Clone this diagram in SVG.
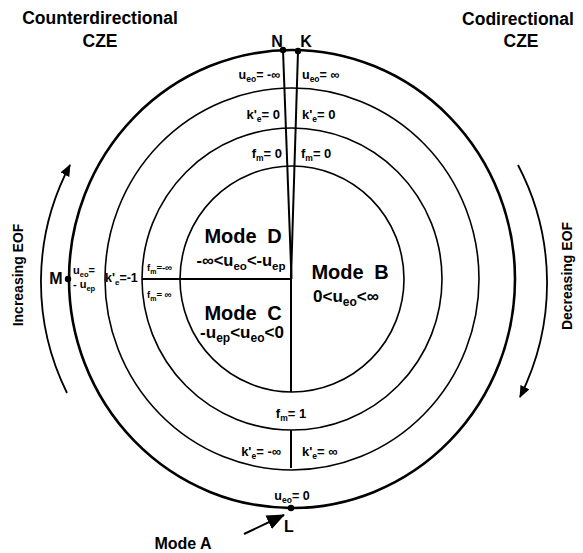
<svg xmlns="http://www.w3.org/2000/svg" width="583" height="553" viewBox="0 0 583 553">
<defs>
<style>
.t{font-family:"Liberation Sans",Arial,Helvetica,sans-serif;font-weight:bold;fill:#000}
.ring{fill:none;stroke:#000;stroke-width:1.6}
.outer{fill:none;stroke:#000;stroke-width:2.6}
.ln{stroke:#000;stroke-width:2;fill:none}
.arc{fill:none;stroke:#000;stroke-width:1.8}
</style>
<marker id="ah" viewBox="0 0 12 10" refX="11" refY="5" markerWidth="12" markerHeight="10" markerUnits="userSpaceOnUse" orient="auto">
<path d="M0,0 L12,5 L0,10 Z" fill="#000"/>
</marker>
<marker id="ahBig" viewBox="0 0 18 15" refX="17" refY="7.5" markerWidth="18" markerHeight="15" markerUnits="userSpaceOnUse" orient="auto">
<path d="M0,0 L18,7.5 L0,15 Z" fill="#000"/>
</marker>
</defs>
<rect width="583" height="553" fill="#fff"/>

<g id="titles">
<text class="t" x="100" y="24" font-size="17.5" text-anchor="middle">Counterdirectional</text>
<text class="t" x="100" y="47" font-size="17.5" text-anchor="middle">CZE</text>
<text class="t" x="518" y="25" font-size="17.5" text-anchor="middle">Codirectional</text>
<text class="t" x="521" y="47" font-size="17.5" text-anchor="middle">CZE</text>
</g>

<g id="rings">
<ellipse class="outer" cx="292" cy="279" rx="223" ry="229"/>
<ellipse class="ring" cx="292" cy="279" rx="187" ry="191"/>
<ellipse class="ring" cx="292" cy="279" rx="150" ry="151"/>
<ellipse class="ring" cx="292" cy="279" rx="112" ry="113"/>
</g>

<g id="connectors">
<line class="ln" x1="283" y1="50" x2="291.5" y2="279"/>
<line class="ln" x1="298" y1="51" x2="291" y2="279"/>
<line class="ln" x1="142" y1="279" x2="291" y2="279"/>
<line class="ln" x1="291" y1="279" x2="291" y2="392"/>
<line class="ln" x1="291" y1="430" x2="291" y2="468"/>
<path class="arc" d="M67,393 A250,250 0 0 1 70,165" marker-end="url(#ah)"/>
<path class="arc" d="M518,165 A254,254 0 0 1 520,397" marker-end="url(#ah)"/>
<line class="ln" x1="244" y1="534" x2="284" y2="515" marker-end="url(#ahBig)"/>
</g>

<g id="points">
<circle cx="283" cy="50" r="3.2"/>
<circle cx="298" cy="51" r="3.2"/>
<circle cx="68" cy="279" r="3.2"/>
<circle cx="291" cy="508" r="3.2"/>
<text class="t" x="277" y="47" font-size="16" text-anchor="middle">N</text>
<text class="t" x="306" y="47" font-size="16" text-anchor="middle">K</text>
<text class="t" x="56" y="284" font-size="16" text-anchor="middle">M</text>
<text class="t" x="289" y="532" font-size="16" text-anchor="middle">L</text>
</g>

<g id="modeA">
<text class="t" x="183" y="549" font-size="16" text-anchor="middle">Mode A</text>
</g>

<g id="eof">
<text class="t" x="0" y="0" font-size="14" text-anchor="middle" transform="translate(23,275) rotate(-90)">Increasing EOF</text>
<text class="t" x="0" y="0" font-size="14" text-anchor="middle" transform="translate(572,276) rotate(-90)">Decreasing EOF</text>
</g>

<g id="ring-labels">
<text class="t" x="280" y="79" font-size="12.5" text-anchor="end">u<tspan font-size="8.5" dy="3">eo</tspan><tspan dy="-3">= -∞</tspan></text>
<text class="t" x="302" y="79" font-size="12.5">u<tspan font-size="8.5" dy="3">eo</tspan><tspan dy="-3">= ∞</tspan></text>
<text class="t" x="280" y="119" font-size="13" text-anchor="end">k'<tspan font-size="8.5" dy="3">e</tspan><tspan dy="-3">= 0</tspan></text>
<text class="t" x="302" y="119" font-size="13">k'<tspan font-size="8.5" dy="3">e</tspan><tspan dy="-3">= 0</tspan></text>
<text class="t" x="282" y="158" font-size="13" text-anchor="end">f<tspan font-size="8.5" dy="3">m</tspan><tspan dy="-3">= 0</tspan></text>
<text class="t" x="301" y="158" font-size="13">f<tspan font-size="8.5" dy="3">m</tspan><tspan dy="-3">= 0</tspan></text>
<text class="t" x="291" y="418" font-size="13" text-anchor="middle">f<tspan font-size="8.5" dy="3">m</tspan><tspan dy="-3">= 1</tspan></text>
<text class="t" x="281" y="456" font-size="13" text-anchor="end">k'<tspan font-size="8.5" dy="3">e</tspan><tspan dy="-3">= -∞</tspan></text>
<text class="t" x="302" y="456" font-size="13">k'<tspan font-size="8.5" dy="3">e</tspan><tspan dy="-3">= ∞</tspan></text>
<text class="t" x="292" y="500" font-size="12.5" text-anchor="middle">u<tspan font-size="8.5" dy="3">eo</tspan><tspan dy="-3">= 0</tspan></text>
<text class="t" x="73" y="274" font-size="11">u<tspan font-size="7.5" dy="2.5">eo</tspan><tspan dy="-2.5">=</tspan></text>
<text class="t" x="73" y="288" font-size="11">- u<tspan font-size="7.5" dy="2.5">ep</tspan></text>
<text class="t" x="105" y="282" font-size="12.5">k'<tspan font-size="8" dy="3">e</tspan><tspan dy="-3">=-1</tspan></text>
<text class="t" x="147" y="271" font-size="9.5">f<tspan font-size="7" dy="2.5">m</tspan><tspan dy="-2.5">=-∞</tspan></text>
<text class="t" x="147" y="298" font-size="9.5">f<tspan font-size="7" dy="2.5">m</tspan><tspan dy="-2.5">= ∞</tspan></text>
</g>

<g id="modeD">
<text class="t" x="243" y="243" font-size="20" text-anchor="middle" word-spacing="5">Mode D</text>
<text class="t" x="241" y="266" font-size="16.5" text-anchor="middle">-∞&lt;u<tspan font-size="11.5" dy="4">eo</tspan><tspan dy="-4">&lt;-u</tspan><tspan font-size="11.5" dy="4">ep</tspan></text>
</g>
<g id="modeC">
<text class="t" x="243" y="320" font-size="20" text-anchor="middle" word-spacing="5">Mode C</text>
<text class="t" x="242" y="338" font-size="17" text-anchor="middle">-u<tspan font-size="12" dy="4">ep</tspan><tspan dy="-4">&lt;u</tspan><tspan font-size="12" dy="4">eo</tspan><tspan dy="-4">&lt;0</tspan></text>
</g>
<g id="modeB">
<text class="t" x="350" y="279" font-size="20" text-anchor="middle" word-spacing="5">Mode B</text>
<text class="t" x="313" y="302" font-size="17">0&lt;u<tspan font-size="12" dy="4">eo</tspan><tspan dy="-4">&lt;∞</tspan></text>
</g>
</svg>
